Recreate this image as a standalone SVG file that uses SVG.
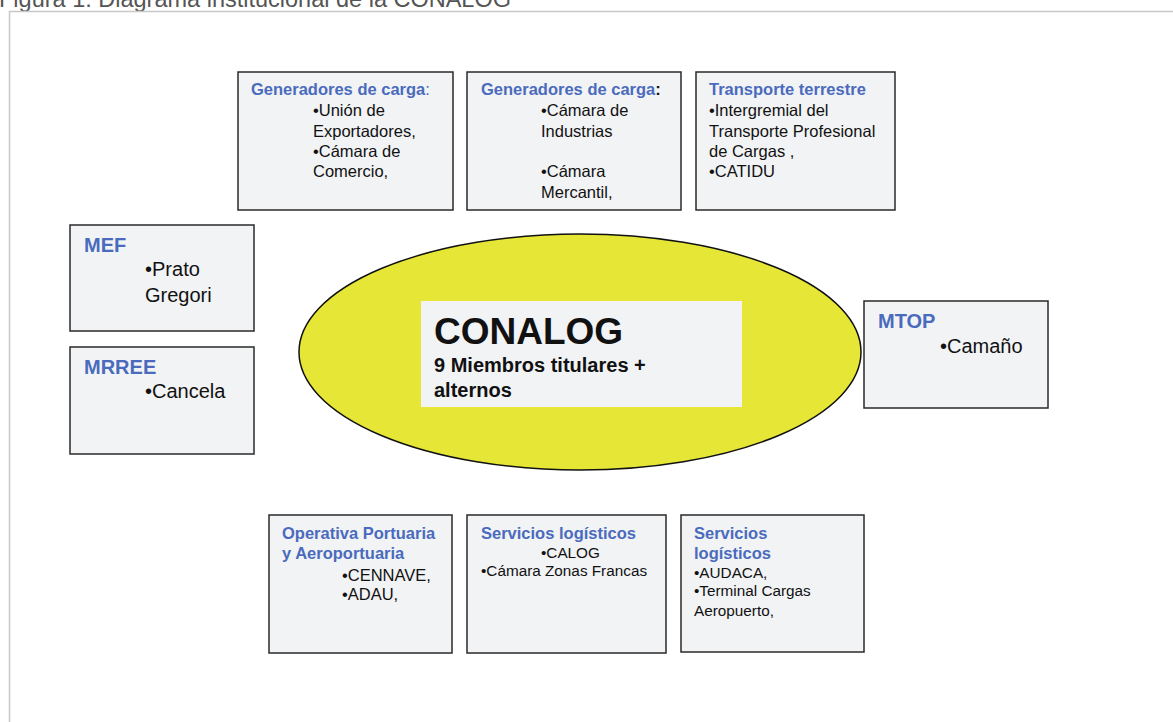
<svg xmlns="http://www.w3.org/2000/svg" width="1173" height="722" viewBox="0 0 1173 722">
<style>
.box{fill:#f2f3f5;stroke:#2a2a2a;stroke-width:1.5}
.t{font-family:"Liberation Sans",Arial,sans-serif;fill:#111}
.h{font-family:"Liberation Sans",Arial,sans-serif;font-weight:bold;fill:#4a6bbd}
.s14{font-size:16.5px}
.s13{font-size:15.3px}
.s18{font-size:20px}
.hl{font-size:20px}
</style>
<rect x="0" y="0" width="1173" height="722" fill="#fff"/>
<text x="-1" y="6.5" class="t" style="font-size:23.5px;fill:#555">Figura 1: Diagrama institucional de la CONALOG</text>
<path d="M9.5,722 V11.5 H1173" fill="none" stroke="#c8c8c8" stroke-width="1.5"/>

<g id="conalog">
<ellipse cx="580" cy="352" rx="281" ry="118" fill="#e6e636" stroke="#111" stroke-width="1.5"/>
<rect x="421" y="301" width="321" height="106" fill="#f2f3f5"/>
<text x="434" y="344" class="t" style="font-size:37px;font-weight:bold">CONALOG</text>
<text x="434" y="372" class="t s18" style="font-weight:bold">9 Miembros titulares +</text>
<text x="434" y="397" class="t s18" style="font-weight:bold">alternos</text>
</g>

<g id="gen1">
<rect class="box" x="238" y="72" width="215" height="138"/>
<text x="251" y="95" class="h s14">Generadores de carga<tspan style="font-weight:normal">:</tspan></text>
<text class="t s14" x="313" y="116">•Unión de</text>
<text class="t s14" x="313" y="137">Exportadores,</text>
<text class="t s14" x="313" y="157">•Cámara de</text>
<text class="t s14" x="313" y="177">Comercio,</text>
</g>

<g id="gen2">
<rect class="box" x="467" y="72" width="214" height="138"/>
<text x="481" y="95" class="h s14">Generadores de carga<tspan style="fill:#111">:</tspan></text>
<text class="t s14" x="541" y="116">•Cámara de</text>
<text class="t s14" x="541" y="137">Industrias</text>
<text class="t s14" x="541" y="177">•Cámara</text>
<text class="t s14" x="541" y="198">Mercantil,</text>
</g>

<g id="transporte">
<rect class="box" x="696" y="72" width="199" height="138"/>
<text x="709" y="95" class="h s14">Transporte terrestre</text>
<text class="t s14" x="709" y="116">•Intergremial del</text>
<text class="t s14" x="709" y="137">Transporte Profesional</text>
<text class="t s14" x="709" y="157">de Cargas ,</text>
<text class="t s14" x="709" y="177">•CATIDU</text>
</g>

<g id="mef">
<rect class="box" x="70" y="225" width="184" height="106"/>
<text x="84" y="252" class="h hl">MEF</text>
<text class="t s18" x="145" y="276">•Prato</text>
<text class="t s18" x="145" y="302">Gregori</text>
</g>

<g id="mrree">
<rect class="box" x="70" y="347" width="184" height="107"/>
<text x="84" y="374" class="h hl">MRREE</text>
<text class="t s18" x="145" y="398">•Cancela</text>
</g>

<g id="mtop">
<rect class="box" x="864" y="301" width="184" height="107"/>
<text x="878" y="328" class="h hl">MTOP</text>
<text class="t s18" x="940" y="353">•Camaño</text>
</g>

<g id="operativa">
<rect class="box" x="269" y="515" width="183" height="138"/>
<text x="282" y="539" class="h s14">Operativa Portuaria</text>
<text x="282" y="559" class="h s14">y Aeroportuaria</text>
<text class="t s14" x="342" y="581">•CENNAVE,</text>
<text class="t s14" x="342" y="600">•ADAU,</text>
</g>

<g id="servicios1">
<rect class="box" x="467" y="515" width="199" height="138"/>
<text x="481" y="539" class="h s14">Servicios logísticos</text>
<text class="t s13" x="541" y="558">•CALOG</text>
<text class="t s13" x="481" y="576">•Cámara Zonas Francas</text>
</g>

<g id="servicios2">
<rect class="box" x="681" y="515" width="183" height="137"/>
<text x="694" y="539" class="h s14">Servicios</text>
<text x="694" y="559" class="h s14">logísticos</text>
<text class="t s13" x="694" y="578">•AUDACA,</text>
<text class="t s13" x="694" y="596">•Terminal Cargas</text>
<text class="t s13" x="694" y="616">Aeropuerto,</text>
</g>

<g id="connectors"></g>
</svg>
